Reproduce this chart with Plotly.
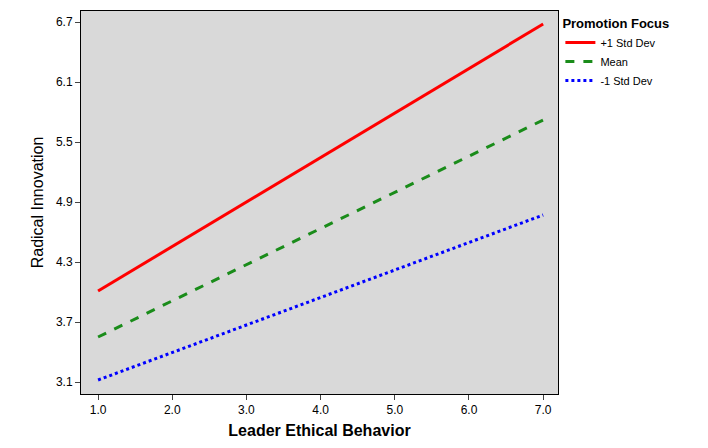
import plotly.graph_objects as go

x_vals = [1.0, 7.0]
plus_sd = [4.01, 6.68]
mean_vals = [3.55, 5.72]
minus_sd = [3.12, 4.77]
series_names = ["+1 Std Dev", "Mean", "-1 Std Dev"]
tick_x = [1.0, 2.0, 3.0, 4.0, 5.0, 6.0, 7.0]
tick_y = [3.1, 3.7, 4.3, 4.9, 5.5, 6.1, 6.7]

fig = go.Figure()
for name, ys, color, dash in zip(series_names, [plus_sd, mean_vals, minus_sd],
                                 ["#ff0000", "#1a8c1a", "#0000ff"], ["solid", "dash", "dot"]):
    fig.add_trace(go.Scatter(x=x_vals, y=ys, mode="lines", name=name,
                             line=dict(color=color, width=3, dash=dash)))

fig.update_layout(
    width=708, height=448,
    margin=dict(l=73, r=156, t=3, b=53),
    paper_bgcolor="white", plot_bgcolor="#d9d9d9",
    font=dict(family="Liberation Sans, Arial", color="black"),
    legend=dict(title=dict(text="<b>Promotion Focus</b>", font=dict(size=13)),
                x=1.005, y=1.0, xanchor="left", yanchor="top",
                font=dict(size=11), bgcolor="white"),
    xaxis=dict(range=[0.77, 7.2], tickvals=tick_x, ticktext=[f"{v:.1f}" for v in tick_x],
               showgrid=False, zeroline=False, showline=True, linecolor="black", mirror=True,
               ticks="outside", tickfont=dict(size=12, family="Liberation Sans"),
               title=dict(text="<b>Leader Ethical Behavior</b>", font=dict(size=16), standoff=12)),
    yaxis=dict(range=[2.98, 6.81], tickvals=tick_y, ticktext=[f"{v:.1f}" for v in tick_y],
               showgrid=False, zeroline=False, showline=True, linecolor="black", mirror=True,
               ticks="outside", tickfont=dict(size=12),
               title=dict(text="Radical Innovation", font=dict(size=16), standoff=8)),
)
fig.update_layout(margin=dict(l=73, r=158, t=3, b=62))
fig.update_xaxes(title_standoff=8)
fig.write_html("out.html")
